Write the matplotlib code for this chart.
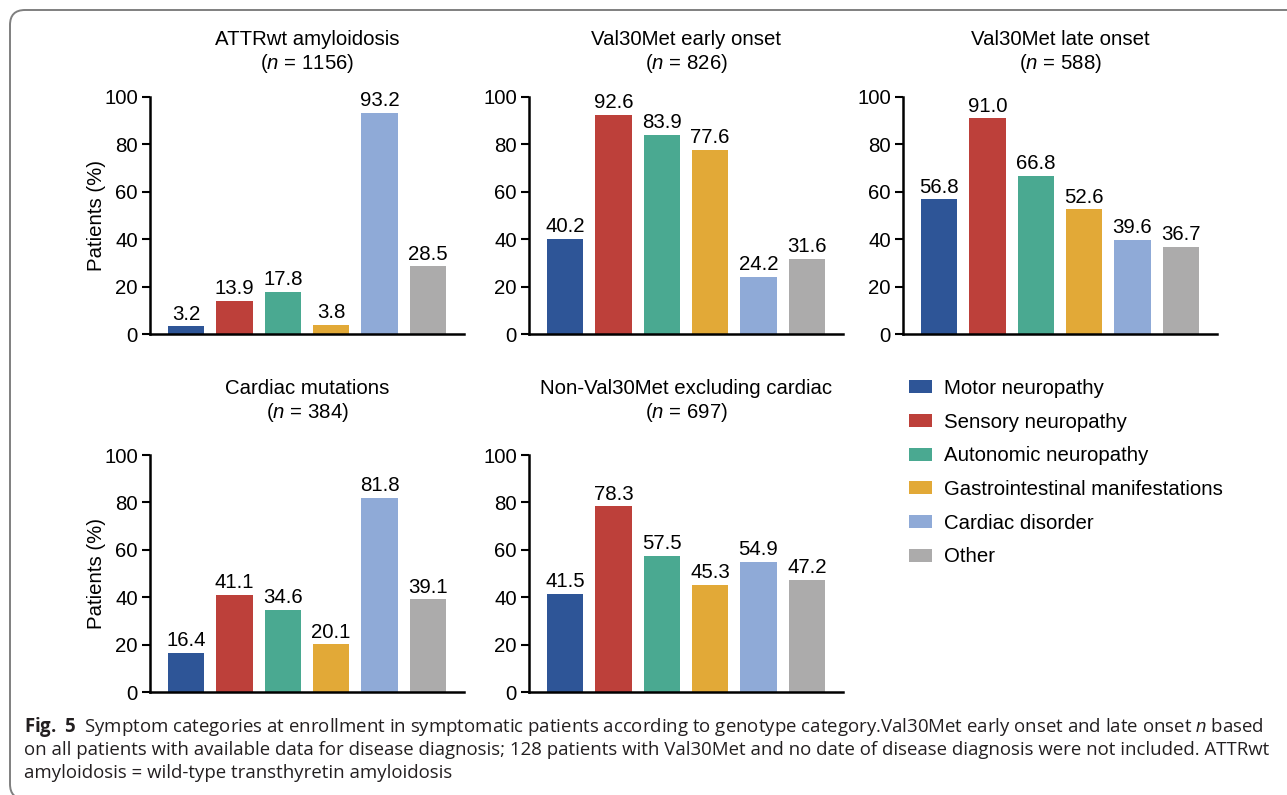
import matplotlib
matplotlib.use("Agg")
import matplotlib.pyplot as plt
from matplotlib.patches import FancyBboxPatch

plt.rcParams['font.family'] = ['Liberation Sans', 'DejaVu Sans']
plt.rcParams['mathtext.fontset'] = 'custom'
plt.rcParams['mathtext.it'] = 'Liberation Sans:italic'
plt.rcParams['mathtext.rm'] = 'Liberation Sans'
plt.rcParams['mathtext.bf'] = 'Open Sans:bold'

categories = ["Motor neuropathy", "Sensory neuropathy", "Autonomic neuropathy",
              "Gastrointestinal manifestations", "Cardiac disorder", "Other"]
colors = ["#2e5597", "#bd403a", "#4aa991", "#e2a937", "#8faad7", "#acabab"]

titles = ["ATTRwt amyloidosis", "Val30Met early onset", "Val30Met late onset",
          "Cardiac mutations", "Non-Val30Met excluding cardiac"]
n_values = [1156, 826, 588, 384, 697]

attrwt = [3.2, 13.9, 17.8, 3.8, 93.2, 28.5]
early_onset = [40.2, 92.6, 83.9, 77.6, 24.2, 31.6]
late_onset = [56.8, 91.0, 66.8, 52.6, 39.6, 36.7]
cardiac_mut = [16.4, 41.1, 34.6, 20.1, 81.8, 39.1]
non_val30met = [41.5, 78.3, 57.5, 45.3, 54.9, 47.2]
panel_data = [attrwt, early_onset, late_onset, cardiac_mut, non_val30met]

caption_lines = [
    r"$\mathbf{Fig.\ 5}$  Symptom categories at enrollment in symptomatic patients according to genotype category.Val30Met early onset and late onset $\mathit{n}$ based",
    "on all patients with available data for disease diagnosis; 128 patients with Val30Met and no date of disease diagnosis were not included. ATTRwt",
    "amyloidosis = wild-type transthyretin amyloidosis",
]

W, H = 1287, 795
fig = plt.figure(figsize=(W / 100, H / 100), dpi=100)

# axes boxes in pixels: left, top, width, height
lefts = [150, 529, 903, 150, 529]
tops = [97, 97, 97, 455, 455]
pads = [20.5, 20.5, 20.5, 27, 27]
fs = 14.7

axes = []
for i, vals in enumerate(panel_data):
    ax = fig.add_axes([lefts[i] / W, 1 - (tops[i] + 237) / H, 314 / W, 237 / H])
    x = range(len(vals))
    bars = ax.bar(x, vals, width=0.75, color=colors)
    ax.bar_label(bars, fmt="%.1f", padding=2, fontsize=fs)
    ax.set_xlim(-0.75, 5.75)
    ax.set_ylim(0, 100)
    ax.set_yticks([0, 20, 40, 60, 80, 100])
    ax.set_xticks([])
    for s in ["top", "right"]:
        ax.spines[s].set_visible(False)
    for s in ["left", "bottom"]:
        ax.spines[s].set_linewidth(1.8)
    ax.tick_params(axis="y", labelsize=fs, length=5.8, width=1.5, pad=3)
    ax.set_title(titles[i] + "\n($\\mathit{n}$ = %d)" % n_values[i],
                 fontsize=fs, pad=pads[i], linespacing=1.15)
    if lefts[i] == 150:
        ax.set_ylabel("Patients (%)", fontsize=fs)
        ax.yaxis.set_label_coords(-44 / 314, 0.5)
    ax.patch.set_alpha(0)
    axes.append((ax, bars))

fig.legend(axes[0][1], categories, loc="upper left",
           bbox_to_anchor=(909 / W, 1 - 379 / H), frameon=False, fontsize=fs,
           handlelength=1.13, handleheight=0.6, handletextpad=0.59,
           labelspacing=0.72, borderaxespad=0, borderpad=0)

caption_y = [727, 750, 773]
texts = []
for line, yy in zip(caption_lines, caption_y):
    t = fig.text(24 / W, 1 - yy / H, line, fontsize=12.5, va="center", ha="left",
                 family=["Open Sans", "DejaVu Sans"], color="#231f20")
    texts.append(t)

# scale caption to the width of the original
fig.canvas.draw()
r = fig.canvas.get_renderer()
w0 = texts[0].get_window_extent(r).width
scale = 1238 / w0
for t in texts:
    t.set_fontsize(12.5 * scale)

frame = FancyBboxPatch((0.10, -0.04), 13.5, 7.89,
                       boxstyle="round,pad=0,rounding_size=0.15",
                       transform=fig.dpi_scale_trans, fill=False,
                       edgecolor="#7f7f7f", linewidth=1.4)
fig.add_artist(frame)

fig.savefig("out.png", dpi=100)
